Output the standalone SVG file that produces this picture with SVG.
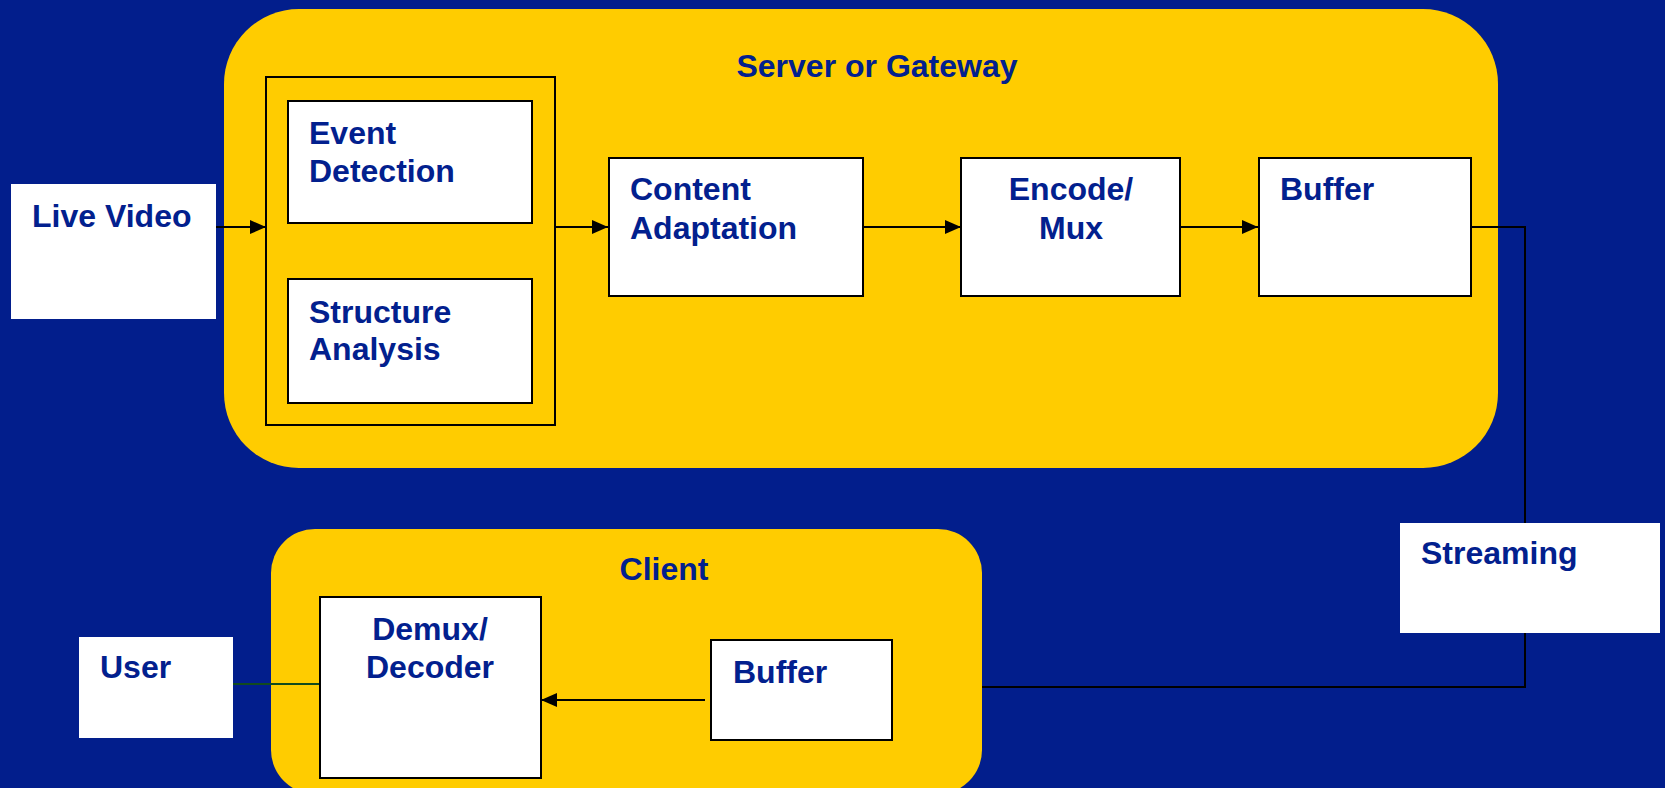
<svg xmlns="http://www.w3.org/2000/svg" width="1665" height="788" viewBox="0 0 1665 788">
<style>
  .bg { fill: #021E8C; }
  .panel { fill: #FFCC00; }
  .box { fill: #FFFFFF; stroke: #000000; stroke-width: 2; }
  .plain { fill: #FFFFFF; }
  .grp { fill: none; stroke: #000000; stroke-width: 2; }
  .lbl { font-family: "Liberation Sans", Arial, sans-serif; font-weight: bold; font-size: 32px; fill: #02208E; }
  .mid { text-anchor: middle; }
  .conn { fill: none; stroke: #000000; stroke-width: 2; }
</style>
<defs>
  <marker id="arr" viewBox="0 0 16 14" refX="16" refY="7" markerWidth="16" markerHeight="14" markerUnits="userSpaceOnUse" orient="auto">
    <path d="M0,0 L16,7 L0,14 Z" fill="#000000"/>
  </marker>
</defs>
<rect class="bg" x="0" y="0" width="1665" height="788"/>

<g id="server">
  <rect class="panel" x="224" y="9" width="1274" height="459" rx="75" ry="75"/>
  <text class="lbl mid" x="877" y="77">Server or Gateway</text>
</g>
<g id="client">
  <rect class="panel" x="271" y="529" width="711" height="265" rx="44" ry="44"/>
  <text class="lbl mid" x="664" y="580">Client</text>
</g>

<g id="connectors">
  <line class="conn" x1="204" y1="227" x2="266" y2="227" marker-end="url(#arr)"/>
  <line class="conn" x1="555" y1="227" x2="608" y2="227" marker-end="url(#arr)"/>
  <line class="conn" x1="863" y1="227" x2="961" y2="227" marker-end="url(#arr)"/>
  <line class="conn" x1="1180" y1="227" x2="1258" y2="227" marker-end="url(#arr)"/>
  <polyline class="conn" points="1471,227 1525,227 1525,687 982,687"/>
  <line class="conn" x1="705" y1="700" x2="541" y2="700" marker-end="url(#arr)"/>
  <line x1="320" y1="684" x2="233" y2="684" stroke="#124A1E" stroke-width="2"/>
</g>

<g id="live-video">
  <rect class="plain" x="11" y="184" width="205" height="135"/>
  <text class="lbl" x="32" y="227">Live Video</text>
</g>
<g id="analysis-group">
  <rect class="grp" x="266" y="77" width="289" height="348"/>
</g>
<g id="event-detection">
  <rect class="box" x="288" y="101" width="244" height="122"/>
  <text class="lbl" x="309" y="144">Event</text>
  <text class="lbl" x="309" y="182">Detection</text>
</g>
<g id="structure-analysis">
  <rect class="box" x="288" y="279" width="244" height="124"/>
  <text class="lbl" x="309" y="323">Structure</text>
  <text class="lbl" x="309" y="360">Analysis</text>
</g>
<g id="content-adaptation">
  <rect class="box" x="609" y="158" width="254" height="138"/>
  <text class="lbl" x="630" y="200">Content</text>
  <text class="lbl" x="630" y="239">Adaptation</text>
</g>
<g id="encode-mux">
  <rect class="box" x="961" y="158" width="219" height="138"/>
  <text class="lbl mid" x="1071" y="200">Encode/</text>
  <text class="lbl mid" x="1071" y="239">Mux</text>
</g>
<g id="server-buffer">
  <rect class="box" x="1259" y="158" width="212" height="138"/>
  <text class="lbl" x="1280" y="200">Buffer</text>
</g>
<g id="streaming">
  <rect class="plain" x="1400" y="523" width="260" height="110"/>
  <text class="lbl" x="1421" y="564">Streaming</text>
</g>
<g id="demux-decoder">
  <rect class="box" x="320" y="597" width="221" height="181"/>
  <text class="lbl mid" x="430" y="640">Demux/</text>
  <text class="lbl mid" x="430" y="678">Decoder</text>
</g>
<g id="client-buffer">
  <rect class="box" x="711" y="640" width="181" height="100"/>
  <text class="lbl" x="733" y="683">Buffer</text>
</g>
<g id="user">
  <rect class="plain" x="79" y="637" width="154" height="101"/>
  <text class="lbl" x="100" y="678">User</text>
</g>
</svg>
